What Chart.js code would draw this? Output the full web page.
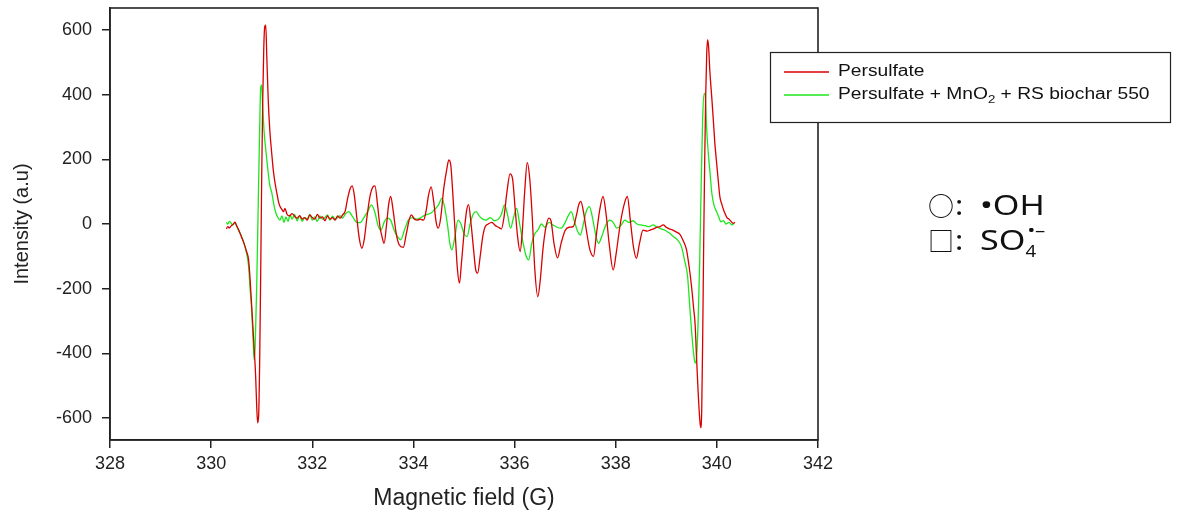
<!DOCTYPE html>
<html>
<head>
<meta charset="utf-8">
<script src="https://cdn.jsdelivr.net/npm/chart.js@4.4.1/dist/chart.umd.min.js"></script>
<style>
  html, body { margin: 0; padding: 0; background: #fff; }
  #wrap { width: 1178px; height: 515px; position: relative; }
</style>
</head>
<body>
<div id="wrap"><canvas id="epr"></canvas></div>
<script>
// EPR spectra, field in G and intensity in a.u.
const persulfateField = [
  330.30, 330.33, 330.36, 330.40, 330.43, 330.47, 330.50, 330.55, 330.60, 330.65,
  330.70, 330.74, 330.77, 330.80, 330.83, 330.86, 330.88, 330.90, 330.92, 330.94,
  330.96, 330.98, 331.00, 331.02, 331.04, 331.06, 331.08, 331.10, 331.13, 331.16,
  331.20, 331.23, 331.26, 331.30, 331.33, 331.36, 331.40, 331.43, 331.46, 331.50,
  331.55, 331.60, 331.66, 331.70, 331.75, 331.80, 331.85, 331.90, 331.95, 332.00,
  332.05, 332.10, 332.15, 332.20, 332.25, 332.30, 332.35, 332.40, 332.45, 332.50,
  332.55, 332.60, 332.65, 332.70, 332.75, 332.79, 332.83, 332.88, 332.93, 332.98,
  333.03, 333.08, 333.14, 333.20, 333.24, 333.29, 333.34, 333.38, 333.42, 333.47,
  333.51, 333.55, 333.60, 333.66, 333.72, 333.80, 333.86, 333.92, 333.96, 334.02,
  334.08, 334.13, 334.20, 334.25, 334.30, 334.35, 334.40, 334.45, 334.49, 334.54,
  334.60, 334.66, 334.70, 334.74, 334.78, 334.83, 334.87, 334.91, 334.95, 335.00,
  335.05, 335.09, 335.14, 335.19, 335.23, 335.27, 335.32, 335.37, 335.42, 335.48,
  335.55, 335.62, 335.68, 335.74, 335.79, 335.85, 335.91, 335.96, 336.01, 336.06,
  336.11, 336.15, 336.20, 336.25, 336.30, 336.35, 336.40, 336.46, 336.51, 336.56,
  336.62, 336.68, 336.72, 336.78, 336.85, 336.92, 337.00, 337.08, 337.16, 337.22,
  337.27, 337.31, 337.36, 337.42, 337.49, 337.56, 337.62, 337.68, 337.75, 337.81,
  337.87, 337.95, 338.01, 338.08, 338.15, 338.23, 338.29, 338.35, 338.41, 338.47,
  338.54, 338.62, 338.68, 338.75, 338.82, 338.88, 338.94, 339.00, 339.06, 339.12,
  339.20, 339.27, 339.33, 339.40, 339.45, 339.50, 339.54, 339.57, 339.60, 339.63,
  339.66, 339.68, 339.70, 339.72, 339.74, 339.76, 339.78, 339.80, 339.82, 339.84,
  339.86, 339.90, 339.93, 339.96, 339.99, 340.03, 340.06, 340.10, 340.13, 340.16,
  340.20, 340.24, 340.28, 340.32, 340.36
];
const persulfateIntensity = [
  -15, -8, -12, -5, -2, 6, -4, -20, -40, -60,
  -85, -110, -170, -250, -330, -410, -470, -560, -615, -590,
  -420, -150, 150, 380, 540, 610, 615, 520, 380, 290,
  215, 165, 130, 95, 70, 55, 45, 38, 48, 30,
  25, 32, 22, 18, 26, 15, 20, 12, 28, 20,
  15, 30, 18, 22, 10, 25, 15, 20, 12, 25,
  18, 28, 40, 80, 110, 118, 90, 20, -45, -75,
  -45, 20, 85, 115, 118, 60, -10, -40, -60, 0,
  60, 85, 40, -30, -65, -72, -30, 15, 28, 15,
  12, 15, 12, 40, 90, 115, 70, 5, -13, 20,
  110, 170, 198, 180, 90, -40, -140, -183, -120, -30,
  40, 60, 0, -80, -140, -152, -100, -40, -8, 0,
  5, -5, -10, -15, 20, 100, 155, 140, 50, -40,
  -85, -30, 100, 190, 140, 20, -140, -225, -170, -80,
  -10, 18, 10, -60, -105, -60, -20, -10, -8, 25,
  60, 70, 40, -20, -80, -100, -30, 40, 85, 30,
  -60, -142, -90, -10, 50, 85, 10, -70, -106, -60,
  -19, -22, -19, -15, -10, -8, -3, -10, -15, -18,
  -25, -32, -50, -80, -130, -194, -260, -310, -420, -520,
  -600, -630, -580, -350, -50, 200, 400, 530, 570, 540,
  476, 390, 322, 250, 198, 130, 84, 60, 45, 33,
  20, 15, 8, 2, 5
];

const mixField = [
  330.30, 330.33, 330.36, 330.40, 330.43, 330.47, 330.50, 330.55, 330.60, 330.65,
  330.70, 330.74, 330.77, 330.80, 330.83, 330.85, 330.87, 330.90, 330.93, 330.96,
  330.98, 331.00, 331.02, 331.05, 331.08, 331.12, 331.16, 331.20, 331.24, 331.28,
  331.32, 331.36, 331.40, 331.44, 331.48, 331.52, 331.56, 331.60, 331.65, 331.70,
  331.75, 331.80, 331.85, 331.90, 331.95, 332.00, 332.05, 332.10, 332.15, 332.20,
  332.25, 332.30, 332.35, 332.40, 332.45, 332.50, 332.55, 332.60, 332.65, 332.72,
  332.80, 332.88, 332.95, 333.02, 333.10, 333.17, 333.24, 333.30, 333.36, 333.42,
  333.48, 333.55, 333.62, 333.69, 333.75, 333.82, 333.90, 333.98, 334.06, 334.13,
  334.20, 334.28, 334.35, 334.42, 334.50, 334.56, 334.62, 334.68, 334.72, 334.76,
  334.82, 334.88, 334.94, 335.00, 335.06, 335.12, 335.18, 335.24, 335.30, 335.37,
  335.44, 335.52, 335.60, 335.68, 335.74, 335.80, 335.86, 335.92, 335.98, 336.04,
  336.10, 336.17, 336.23, 336.28, 336.34, 336.40, 336.46, 336.53, 336.60, 336.68,
  336.76, 336.84, 336.92, 337.00, 337.06, 337.12, 337.18, 337.24, 337.30, 337.36,
  337.42, 337.48, 337.54, 337.60, 337.66, 337.72, 337.80, 337.88, 337.95, 338.02,
  338.10, 338.18, 338.26, 338.34, 338.42, 338.50, 338.58, 338.66, 338.74, 338.82,
  338.90, 338.98, 339.06, 339.14, 339.22, 339.30, 339.36, 339.42, 339.46, 339.50,
  339.54, 339.57, 339.60, 339.63, 339.66, 339.69, 339.72, 339.75, 339.77, 339.80,
  339.83, 339.87, 339.90, 339.94, 339.98, 340.03, 340.08, 340.13, 340.18, 340.24,
  340.30, 340.34
];
const mixIntensity = [
  5, 0, 8, 2, -3, 5, -5, -22, -38, -60,
  -90, -130, -200, -260, -360, -420, -380, -200, 50, 300,
  420, 430, 360, 280, 230, 170, 120, 96, 60, 34,
  20, 12, 25, 5, 22, 8, 28, 15, 30, 10,
  25, 8, 20, 15, 30, 12, 22, 8, 25, 15,
  20, 28, 12, 24, 15, 20, 25, 18, 30, 38,
  22, 5, 4, 20, 40, 59, 35, -5, -19, 5,
  18, 12, -20, -40, -49, -20, 12, 20, 15, 18,
  25, 30, 34, 45, 60, 79, 50, -10, -60, -80,
  -40, 12, 0, -30, -39, 0, 30, 38, 25, 15,
  12, 20, 10, 15, 30, 59, 30, -13, 20, 48,
  0, -60, -100, -111, -60, -30, -19, 0, -10, 5,
  -3, -10, -13, 5, 25, 38, 10, -20, -34, 0,
  40, 54, 20, -30, -60, -40, -5, 12, 5, -13,
  -5, 12, 5, 10, 0, -3, -5, -8, -3, -10,
  -15, -20, -28, -39, -49, -70, -111, -160, -245, -330,
  -400, -430, -410, -300, -120, 120, 330, 404, 395, 290,
  220, 150, 96, 60, 43, 25, 7, 10, 0, 5,
  -3, 2
];

const seriesLabels = ['Persulfate', 'Persulfate + MnO\u2082 + RS biochar 550'];
const xTicks = [328, 330, 332, 334, 336, 338, 340, 342];
const yTicks = [-600, -400, -200, 0, 200, 400, 600];

const RED = '#d80000';
const GREEN = '#1ee61e';
const INK = '#222';
const SANS = '"Liberation Sans", Arial, sans-serif';

const toPoints = (xs, ys) => xs.map((x, i) => ({ x: x, y: ys[i] }));

// text stretched horizontally, returns the drawn width
function wideText(ctx, t, x, y, sx) {
  ctx.save();
  ctx.translate(x, y);
  ctx.scale(sx, 1);
  ctx.fillText(t, 0, 0);
  const w = ctx.measureText(t).width * sx;
  ctx.restore();
  return w;
}

// frame, legend box and the radical key are drawn by hand
const extras = {
  id: 'extras',
  afterDatasetsDraw(chart) {
    const { ctx, chartArea: a } = chart;
    ctx.save();
    ctx.strokeStyle = INK;
    ctx.lineWidth = 1.6;
    ctx.strokeRect(a.left, a.top, a.right - a.left, a.bottom - a.top);

    // legend
    const lx = 770, ly = 52, lw = 400, lh = 70;
    ctx.fillStyle = '#fff';
    ctx.fillRect(lx, ly, lw, lh);
    ctx.lineWidth = 1.2;
    ctx.strokeStyle = INK;
    ctx.strokeRect(lx + 0.5, ly + 0.5, lw, lh);
    const rows = [72, 95];
    const cols = [RED, GREEN];
    ctx.textBaseline = 'middle';
    rows.forEach((y, i) => {
      ctx.strokeStyle = cols[i];
      ctx.lineWidth = 1.3;
      ctx.beginPath();
      ctx.moveTo(784, y);
      ctx.lineTo(829, y);
      ctx.stroke();
    });
    ctx.fillStyle = '#111';
    const sx = 1.2;
    ctx.font = '16px ' + SANS;
    wideText(ctx, 'Persulfate', 838, rows[0], sx);
    let x = 838;
    const parts = [['Persulfate + MnO', 0], ['2', 1], [' + RS biochar 550', 0]];
    parts.forEach(([t, sub]) => {
      ctx.font = (sub ? '11px ' : '16px ') + SANS;
      x += wideText(ctx, t, x, rows[1] + (sub ? 5 : 0), sx);
    });

    // radical key
    const sym = '26px "Noto Sans CJK KR", sans-serif';
    const txt = '28px "Noto Sans", "Open Sans", sans-serif';
    const small = '17px "Noto Sans", "Open Sans", sans-serif';
    ctx.textBaseline = 'alphabetic';
    ctx.fillStyle = '#111';
    ctx.font = sym;
    ctx.fillText('\u25CB', 928, 216);
    ctx.fillText('\u25A1', 928, 251);
    ctx.font = txt;
    wideText(ctx, ':', 955, 215, 1.1);
    wideText(ctx, ':', 955, 250, 1.1);
    wideText(ctx, '\u2022OH', 980, 215, 1.22);
    x = 980 + wideText(ctx, 'SO', 980, 250, 1.22);
    ctx.font = small;
    wideText(ctx, '4', x, 257, 1.1);
    wideText(ctx, '\u2022\u2013', x + 2, 236, 1.2);
    ctx.restore();
  }
};

new Chart(document.getElementById('epr'), {
  type: 'scatter',
  data: {
    datasets: [
      {
        label: seriesLabels[0],
        data: toPoints(persulfateField, persulfateIntensity),
        showLine: true,
        borderColor: RED,
        backgroundColor: RED,
        borderWidth: 1.3,
        pointRadius: 0,
        cubicInterpolationMode: 'monotone',
      },
      {
        label: seriesLabels[1],
        data: toPoints(mixField, mixIntensity),
        showLine: true,
        borderColor: GREEN,
        backgroundColor: GREEN,
        borderWidth: 1.3,
        pointRadius: 0,
        cubicInterpolationMode: 'monotone',
      },
    ],
  },
  options: {
    responsive: true,
    maintainAspectRatio: false,
    animation: false,
    layout: { padding: { left: 0, right: 360, top: 8, bottom: 0 } },
    plugins: {
      legend: { display: false },
      tooltip: { enabled: false },
    },
    scales: {
      x: {
        type: 'linear',
        min: 328,
        max: 342,
        afterBuildTicks: (s) => { s.ticks = xTicks.map((v) => ({ value: v })); },
        afterFit: (s) => { s.height = 75; s.paddingLeft = 0; s.paddingRight = 0; },
        grid: { drawOnChartArea: false, drawTicks: true, tickLength: 8, color: INK, lineWidth: 1.5 },
        border: { display: true, color: INK, width: 1.6 },
        ticks: {
          color: INK,
          padding: 5,
          font: { family: SANS, size: 18 },
        },
        title: {
          display: true,
          text: 'Magnetic field (G)',
          color: INK,
          padding: { top: 0, bottom: 3 },
          font: { family: SANS, size: 23 },
        },
      },
      y: {
        min: -668,
        max: 668,
        afterBuildTicks: (s) => { s.ticks = yTicks.map((v) => ({ value: v })); },
        afterFit: (s) => { s.width = 110; s.paddingTop = 0; s.paddingBottom = 0; },
        grid: { drawOnChartArea: false, drawTicks: true, tickLength: 8, color: INK, lineWidth: 1.5 },
        border: { display: true, color: INK, width: 1.6 },
        ticks: {
          color: INK,
          padding: 10,
          font: { family: SANS, size: 18 },
        },
        title: {
          display: true,
          text: 'Intensity (a.u)',
          color: INK,
          padding: { top: 10, bottom: 0 },
          font: { family: SANS, size: 20 },
        },
      },
    },
  },
  plugins: [extras],
});
</script>
</body>
</html>
